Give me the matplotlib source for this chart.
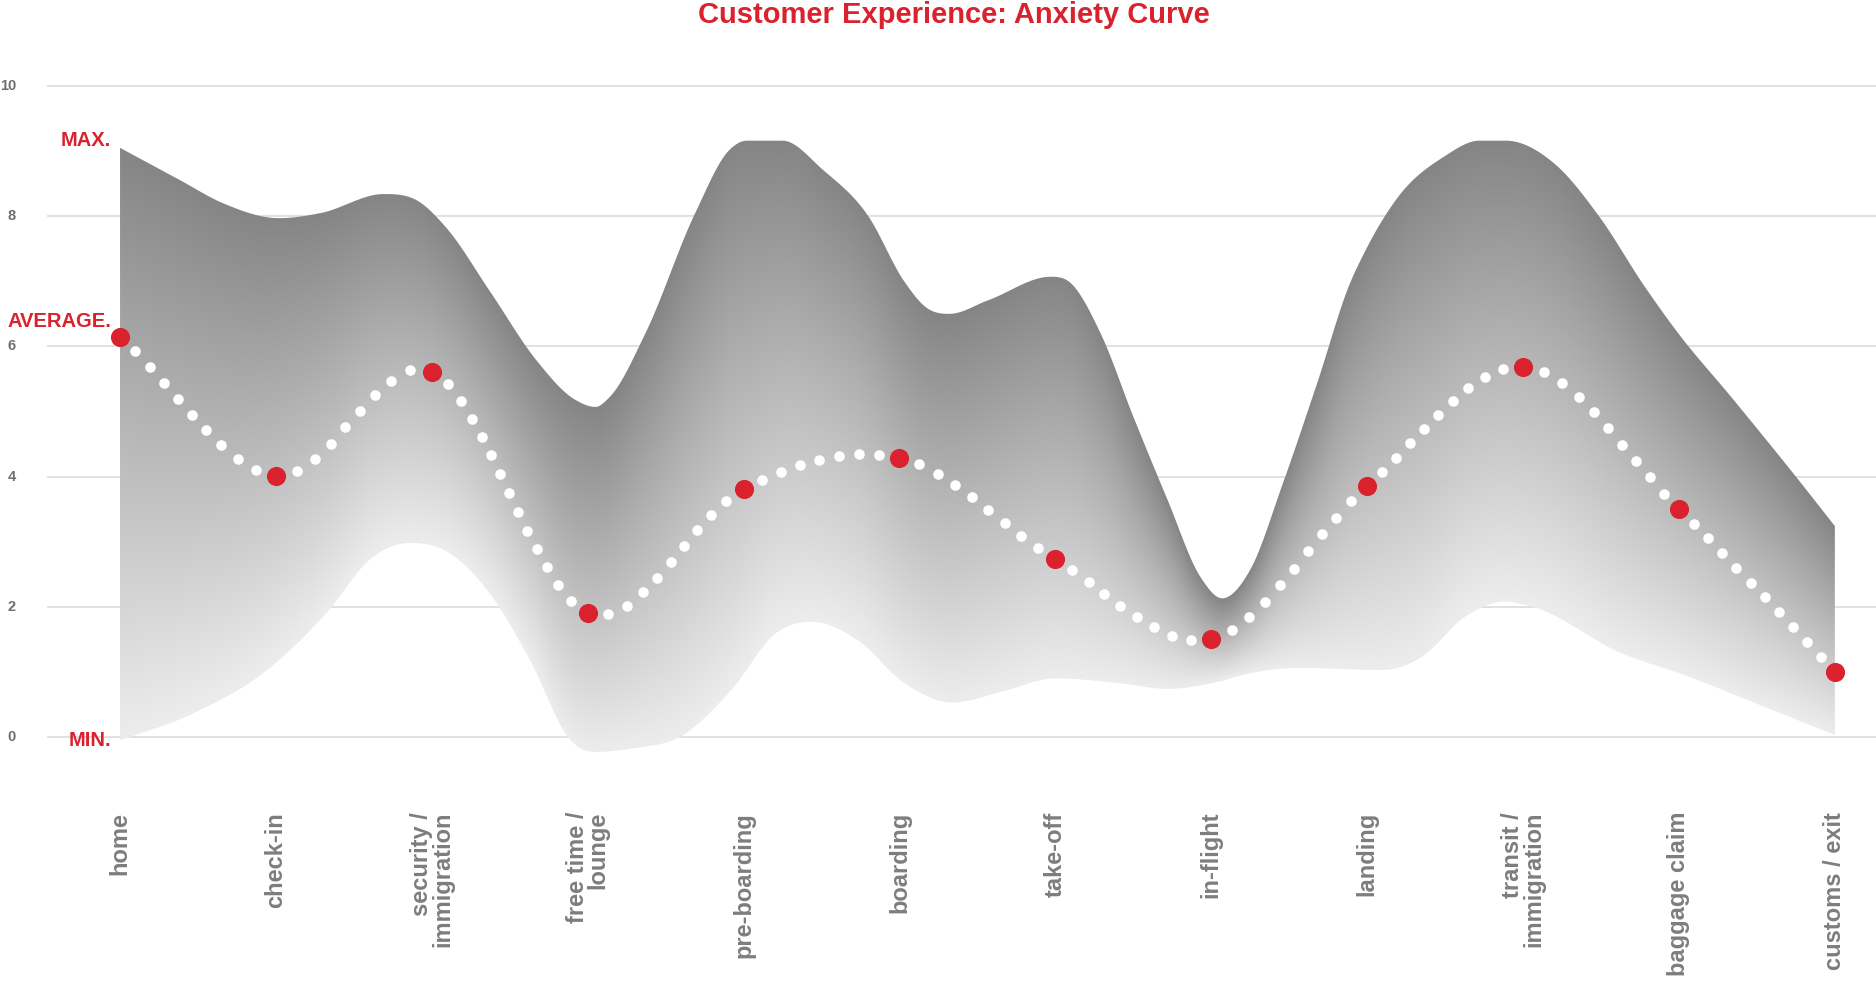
import numpy as np
import matplotlib
matplotlib.use('Agg')
import matplotlib.pyplot as plt
from matplotlib.patches import Polygon

# stages of the journey
stages = ['home', 'check-in', 'security /\nimmigration', 'free time /\nlounge',
          'pre-boarding', 'boarding', 'take-off', 'in-flight', 'landing',
          'transit /\nimmigration', 'baggage claim', 'customs / exit']

# average anxiety per stage (red dots)
avg_vals = [6.15, 4.01, 5.61, 1.90, 3.81, 4.29, 2.73, 1.51, 3.86, 5.69, 3.50, 1.00]

# upper envelope (max), read along the journey (stage units)
max_pos = [0.00, 0.38, 0.66, 1.02, 1.29, 1.69, 1.92, 2.09, 2.38, 2.67, 2.92, 3.05,
           3.14, 3.37, 3.69, 3.91, 4.02, 4.25, 4.51, 4.80, 5.03, 5.17, 5.32, 5.57,
           5.97, 6.09, 6.29, 6.50, 6.72, 6.93, 7.07, 7.25, 7.46, 7.68, 7.89, 7.98,
           8.20, 8.49, 8.72, 8.89, 9.20, 9.49, 9.78, 9.98, 10.35, 10.75, 11.00]
max_vals = [9.05, 8.56, 8.20, 7.97, 8.05, 8.34, 8.22, 7.83, 6.82, 5.79, 5.18, 5.07,
            5.22, 6.20, 8.05, 9.02, 9.16, 9.16, 8.71, 8.00, 7.00, 6.60, 6.50, 6.71,
            7.07, 6.99, 6.20, 4.92, 3.64, 2.46, 2.13, 2.57, 3.90, 5.44, 6.97, 7.43,
            8.30, 8.91, 9.16, 9.16, 8.81, 7.99, 6.92, 6.25, 5.18, 4.00, 3.24]

# lower envelope (min)
min_pos = [0.00, 0.42, 0.97, 1.34, 1.60, 1.86, 2.08, 2.37, 2.63, 2.89, 3.04, 3.30,
           3.59, 3.92, 4.21, 4.44, 4.73, 5.03, 5.34, 5.66, 6.00, 6.40, 6.72, 7.03,
           7.25, 7.57, 8.10, 8.35, 8.63, 8.88, 9.06, 9.63, 10.06, 10.49, 11.00]
min_vals = [-0.05, 0.31, 1.08, 1.95, 2.72, 2.98, 2.87, 2.21, 1.18, -0.05, -0.23, -0.17,
            0.00, 0.72, 1.60, 1.77, 1.49, 0.83, 0.53, 0.70, 0.90, 0.83, 0.74, 0.84,
            0.98, 1.06, 1.03, 1.23, 1.85, 2.08, 2.00, 1.29, 0.93, 0.52, 0.03]

yticks = [0, 2, 4, 6, 8, 10]

RED = '#d9222d'
TICK_GRAY = '#6e6e6e'
LABEL_GRAY = '#7d7d7d'
NARROW = ['Liberation Sans Narrow', 'Liberation Sans', 'DejaVu Sans']
WIDE = ['Liberation Sans', 'DejaVu Sans']


def hermite(x, y, m, xn):
    x = np.asarray(x, float); y = np.asarray(y, float)
    k = np.clip(np.searchsorted(x, xn) - 1, 0, len(x) - 2)
    h = x[k + 1] - x[k]
    t = (xn - x[k]) / h
    t2, t3 = t * t, t * t * t
    return ((2*t3 - 3*t2 + 1) * y[k] + (t3 - 2*t2 + t) * h * m[k]
            + (-2*t3 + 3*t2) * y[k + 1] + (t3 - t2) * h * m[k + 1])


def smooth_slopes(x, y):
    # central slopes, flat at extrema, limited so the curve does not overshoot
    x = np.asarray(x, float); y = np.asarray(y, float)
    h = np.diff(x); d = np.diff(y) / h
    m = np.zeros_like(y)
    for k in range(1, len(y) - 1):
        if d[k-1] * d[k] > 0:
            c = (d[k-1] * h[k] + d[k] * h[k-1]) / (h[k-1] + h[k])
            lim = 3 * min(abs(d[k-1]), abs(d[k]))
            m[k] = np.sign(c) * min(abs(c), lim)
    m[0], m[-1] = d[0], d[-1]
    return m


def cr_slopes(y):
    y = np.asarray(y, float)
    m = np.zeros_like(y)
    m[1:-1] = (y[2:] - y[:-2]) / 2
    m[0] = y[1] - y[0]
    m[-1] = y[-1] - y[-2]
    return m


fig = plt.figure(figsize=(18.76, 9.84), dpi=100)
ax = fig.add_axes([0, 0, 1, 1])
ax.set_axis_off()

# gridlines + y tick labels
for v in yticks:
    ax.plot([-0.468, 11.3], [v, v], color='#dedede', lw=1.3, zorder=1, solid_capstyle='butt')
    ax.text(-0.667, v, str(v), ha='right', va='center', fontsize=10.5,
            fontweight='bold', color=TICK_GRAY, family=NARROW)

# gradient band between min and max
n = len(stages)
gx = np.linspace(0, n - 1, 1600)
hi = hermite(max_pos, max_vals, smooth_slopes(max_pos, max_vals), gx)
lo = hermite(min_pos, min_vals, smooth_slopes(min_pos, min_vals), gx)
gy = np.linspace(-0.5, 9.5, 900)
t = np.clip((gy[:, None] - lo[None, :]) / (hi - lo)[None, :], 0, 1)
g = (237 - 104 * t) / 255
img = np.dstack([g, g, g])
im = ax.imshow(img, extent=[0, n - 1, -0.5, 9.5], origin='lower', aspect='auto',
               interpolation='bilinear', zorder=2)
band = Polygon(np.column_stack([np.r_[gx, gx[::-1]], np.r_[hi, lo[::-1]]]),
               closed=True, facecolor='none', edgecolor='none', transform=ax.transData)
ax.add_patch(band)
im.set_clip_path(band)
ax.set_xlim(-0.770, 11.264)
ax.set_ylim(-3.794, 11.321)

# average curve as white dots, evenly spaced in screen space
sx = np.arange(n)
fx = np.linspace(0, n - 1, 6000)
fy = hermite(sx, avg_vals, cr_slopes(avg_vals), fx)
pix = ax.transData.transform(np.column_stack([fx, fy]))
inv = ax.transData.inverted()
dots = []
for i in range(n - 1):
    sel = (fx >= i) & (fx <= i + 1)
    p = pix[sel]
    seg = np.r_[0, np.cumsum(np.hypot(np.diff(p[:, 0]), np.diff(p[:, 1])))]
    cnt = max(1, int(round(seg[-1] / 21.0)))
    for k in range(1, cnt):
        s = seg[-1] * k / cnt
        dots.append([np.interp(s, seg, p[:, 0]), np.interp(s, seg, p[:, 1])])
dots = inv.transform(np.array(dots))
ax.scatter(dots[:, 0], dots[:, 1], s=58, color='white', linewidths=0, zorder=4)
ax.scatter(sx, avg_vals, s=190, color=RED, linewidths=0, zorder=5)

# side labels
ax.text(-0.058, max_vals[0] + 0.12, 'MAX.', ha='right', va='center', fontsize=14.5,
        fontweight='bold', color=RED, family=NARROW)
ax.text(-0.058, avg_vals[0] + 0.24, 'AVERAGE.', ha='right', va='center', fontsize=14.5,
        fontweight='bold', color=RED, family=NARROW)
ax.text(-0.058, min_vals[0] - 0.01, 'MIN.', ha='right', va='center', fontsize=14.5,
        fontweight='bold', color=RED, family=NARROW)

# stage labels
for i, lab in enumerate(stages):
    ax.text(i, -1.15, lab, rotation=90, rotation_mode='anchor', ha='right', va='center',
            multialignment='right', linespacing=0.9, fontsize=17, fontweight='bold',
            color=LABEL_GRAY, family=WIDE)

fig.text(954 / 1876, 1 - 23 / 984, 'Customer Experience: Anxiety Curve', ha='center',
         va='baseline', fontsize=21, fontweight='bold', color=RED, family=NARROW)

fig.savefig('out.png', dpi=100, facecolor='white')
